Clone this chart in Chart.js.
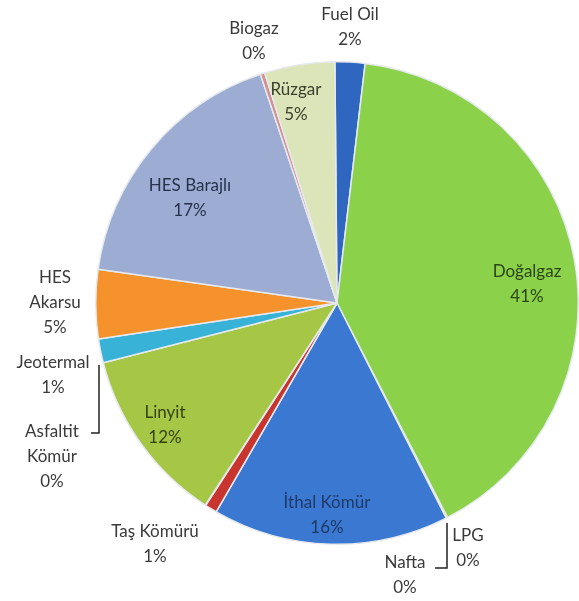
<!DOCTYPE html>
<html>
<head>
<meta charset="utf-8">
<script src="https://cdn.jsdelivr.net/npm/chart.js@4"></script>
<style>
  html, body { margin: 0; padding: 0; background: #fff; }
  #wrap { width: 579px; height: 601px; position: relative; }
</style>
</head>
<body>
<div id="wrap"><canvas id="chart"></canvas></div>
<script>
/* ---- data (share of installed power, %) ---- */
const categories = ['Fuel Oil', 'Doğalgaz', 'LPG', 'Nafta', 'İthal Kömür', 'Taş Kömürü',
  'Asfaltit Kömür', 'Linyit', 'Jeotermal', 'HES Akarsu', 'HES Barajlı', 'Biogaz', 'Rüzgar'];
const shares = [2.0, 40.5, 0.05, 0.05, 15.8, 0.8, 0.05, 11.8, 1.6, 4.6, 17.6, 0.3, 4.7];
const pctLabels = ['2%', '41%', '0%', '0%', '16%', '1%', '0%', '12%', '1%', '5%', '17%', '0%', '5%'];

/* ---- styles ---- */
const SLICE_COLORS = ['#2F66C0', '#8CD14A', 'rgba(0,0,0,0)', 'rgba(0,0,0,0)', '#3B78D2', '#C8352E',
  'rgba(0,0,0,0)', '#A6C646', '#38B2D6', '#F5922C', '#9DACD2', '#D49191', '#DCE5BA'];
const TEXT_COLORS = ['#3A3A3A', '#2A4516', '#3A3A3A', '#3A3A3A', '#1D3A66', '#3A3A3A',
  '#3A3A3A', '#364212', '#3A3A3A', '#3A3A3A', '#26324E', '#3A3A3A', '#3A402C'];

// label anchor relative to pie centre: [dx, dy, lines...]
const LABEL_POS = [
  [13, -288, ['Fuel Oil']],
  [190, -31, ['Doğalgaz']],
  [131, 233, ['LPG']],
  [68, 260, ['Nafta']],
  [-10, 200, ['İthal Kömür']],
  [-182, 229, ['Taş Kömürü']],
  [-285, 129, ['Asfaltit', 'Kömür']],
  [-172, 110, ['Linyit']],
  [-284, 60, ['Jeotermal']],
  [-282, -25, ['HES', 'Akarsu']],
  [-147, -117, ['HES Barajlı']],
  [-83, -274, ['Biogaz']],
  [-41, -213, ['Rüzgar']]
];
const LEADERS = [
  [[-238, 62], [-238, 130], [-246, 130]],
  [[110, 220], [110, 265], [98, 265]]
];

function shade(hex, amt) {
  if (!hex.startsWith('#')) return hex;
  const n = parseInt(hex.slice(1), 16);
  let r = n >> 16, g = (n >> 8) & 255, b = n & 255;
  const f = v => Math.max(0, Math.min(255, Math.round(amt >= 0 ? v + (255 - v) * amt : v * (1 + amt))));
  return `rgb(${f(r)},${f(g)},${f(b)})`;
}

function sliceFill(ctx) {
  const base = SLICE_COLORS[ctx.dataIndex];
  const arc = ctx.chart.getDatasetMeta(0).data[ctx.dataIndex];
  if (!arc || !arc.outerRadius || !base.startsWith('#')) return base;
  const g = ctx.chart.ctx.createRadialGradient(arc.x, arc.y, 0, arc.x, arc.y, arc.outerRadius);
  g.addColorStop(0, shade(base, 0.12));
  g.addColorStop(0.85, base);
  g.addColorStop(0.95, shade(base, -0.08));
  g.addColorStop(1, shade(base, -0.22));
  return g;
}

const labelPlugin = {
  id: 'pieLabels',
  afterDatasetsDraw(chart) {
    const arc0 = chart.getDatasetMeta(0).data[0];
    const cx = arc0.x, cy = arc0.y;
    const c = chart.ctx;
    c.save();
    c.font = '17px Lato, "Open Sans", sans-serif';
    c.textAlign = 'center';
    c.textBaseline = 'middle';
    LABEL_POS.forEach(([dx, dy, lines], i) => {
      c.fillStyle = TEXT_COLORS[i];
      const all = lines.concat([pctLabels[i]]);
      all.forEach((t, k) => c.fillText(t, cx + dx, cy + dy + k * 25));
    });
    c.strokeStyle = '#222';
    c.lineWidth = 1.5;
    LEADERS.forEach(pts => {
      c.beginPath();
      pts.forEach(([x, y], k) => k ? c.lineTo(cx + x, cy + y) : c.moveTo(cx + x, cy + y));
      c.stroke();
    });
    c.restore();
  }
};

new Chart(document.getElementById('chart'), {
  type: 'pie',
  data: {
    labels: categories,
    datasets: [{
      data: shares,
      backgroundColor: sliceFill,
      borderColor: '#E6E9EE',
      borderWidth: shares.map((_, i) => SLICE_COLORS[i].startsWith('#') ? 1.5 : 0)
    }]
  },
  options: {
    responsive: true,
    maintainAspectRatio: false,
    animation: false,
    rotation: -0.5,
    layout: { padding: { left: 95, right: 0, top: 61, bottom: 56 } },
    plugins: {
      legend: { display: false },
      tooltip: { enabled: false }
    }
  },
  plugins: [labelPlugin]
});
</script>
</body>
</html>
